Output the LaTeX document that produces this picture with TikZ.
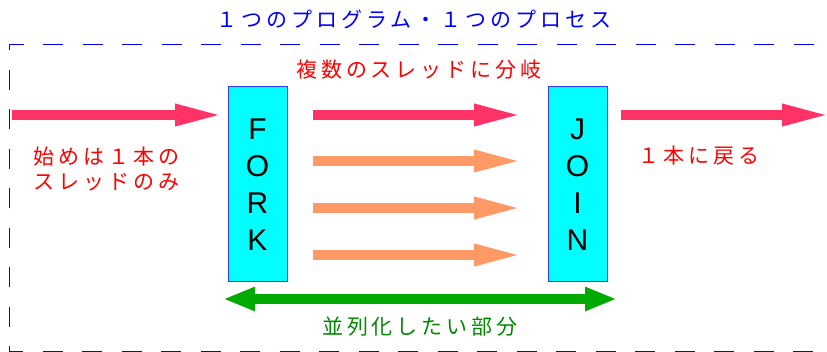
\documentclass[tikz,border=0pt]{standalone}
\usepackage{fontspec}
\setmainfont{Liberation Sans}
\newfontfamily\jp[LetterSpace=19]{Noto Sans CJK JP}
\usetikzlibrary{arrows.meta}
\definecolor{pinkarrow}{HTML}{FF3366}
\definecolor{orangearrow}{HTML}{FF9966}
\definecolor{boxcyan}{HTML}{00FFFF}
\definecolor{boxblue}{HTML}{2A3CFF}
\definecolor{greenarrow}{HTML}{00AA00}
\definecolor{greentext}{HTML}{008800}
\definecolor{redtext}{HTML}{FF0000}
\definecolor{titleblue}{HTML}{0000FF}
\begin{document}
\begin{tikzpicture}[x=1pt,y=-1pt,
  fatarrow/.style={line width=10pt,shorten >=-8pt,-{Triangle[length=50pt,width=19.5pt]}},
  greenboth/.style={line width=10pt,greenarrow,shorten >=-3pt,shorten <=-3pt,{Triangle[length=32pt,width=22pt]}-{Triangle[length=32pt,width=22pt]}},
  procbox/.style={draw=boxblue,line width=1pt,fill=boxcyan,minimum width=59pt,minimum height=195pt,inner sep=0pt,
     font=\fontsize{30}{37}\selectfont,align=center},
  jptext/.style={inner sep=0pt,font=\jp\fontsize{21}{25}\selectfont},
  frame/.style={draw=titleblue,line width=1pt,dash pattern=on 20pt off 19.5pt}
]
\useasboundingbox (0,0) rectangle (827,352);
% frame
\draw[frame,dash phase=14.5pt] (9.5,352) -- (9.5,44.5) -- (850,44.5);
\draw[frame,dash phase=6.5pt] (9.5,352) -- (850,352);
% title
\node[jptext,text=titleblue] (title) at (414,19) {１つのプログラム・１つのプロセス};
\node[jptext,text=redtext] (branch) at (419,70) {複数のスレッドに分岐};
% boxes
\node[procbox] (fork) at (257.5,184.5) {F\\O\\R\\K};
\node[procbox] (join) at (577.5,184.5) {J\\O\\I\\N};
% coordinates
\coordinate (l0) at (12,115);
\coordinate (l1) at (217,115);
\coordinate (m0a) at (313,115); \coordinate (m1a) at (516,115);
\coordinate (m0b) at (313,161); \coordinate (m1b) at (516,161);
\coordinate (m0c) at (313,208); \coordinate (m1c) at (516,208);
\coordinate (m0d) at (313,255); \coordinate (m1d) at (516,255);
\coordinate (r0) at (621,115);
\coordinate (r1) at (824,115);
\coordinate (g0) at (226,299);
\coordinate (g1) at (614,299);
% arrows
\draw[fatarrow,pinkarrow] (l0) -- (l1);
\draw[fatarrow,pinkarrow] (m0a) -- (m1a);
\draw[fatarrow,orangearrow] (m0b) -- (m1b);
\draw[fatarrow,orangearrow] (m0c) -- (m1c);
\draw[fatarrow,orangearrow] (m0d) -- (m1d);
\draw[fatarrow,pinkarrow] (r0) -- (r1);
\draw[greenboth] (g0) -- (g1);
% texts
\node[jptext,text=redtext,anchor=west,align=left] (start) at (33,169) {始めは１本の\\スレッドのみ};
\node[jptext,text=redtext,anchor=west] (back) at (638,156) {１本に戻る};
\node[jptext,text=greentext] (para) at (420,327) {並列化したい部分};
\end{tikzpicture}
\end{document}
